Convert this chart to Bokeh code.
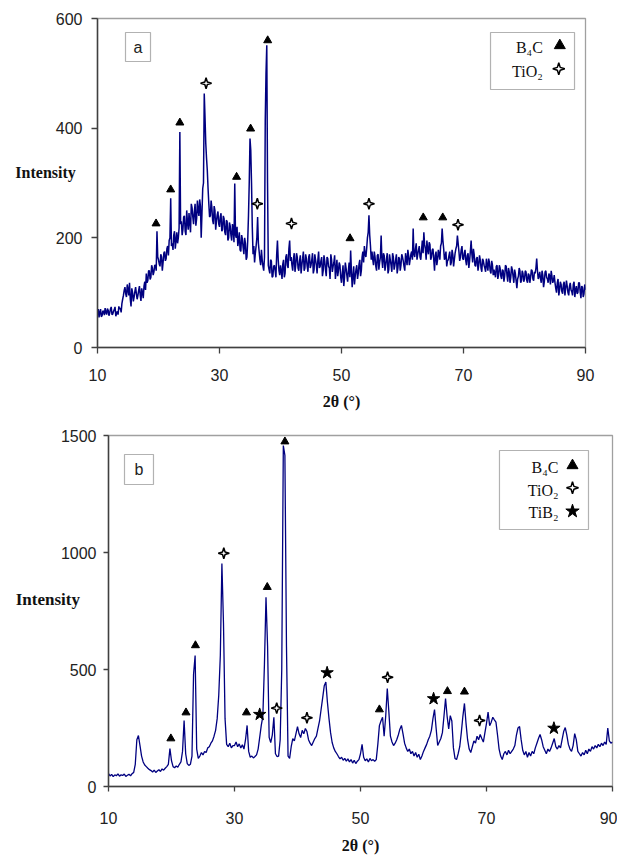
import numpy as np
from bokeh.plotting import figure
from bokeh.models import Range1d, FixedTicker, Label, BoxAnnotation, Title
from bokeh.layouts import column, row
from bokeh.embed import file_html
from bokeh.resources import INLINE

# ---------------- data ----------------
# step scan, 0.25 deg per step from 10 to 90 deg 2-theta
two_theta = np.arange(10, 90.001, 0.25)

# pattern (a): values at the 0.25 deg steps ...
intensity_a = [
    62, 55, 70, 58, 66, 72, 60, 68, 63, 74, 61, 69, 57, 66, 75, 72, 80, 95, 110, 92,
    105, 118, 75, 100, 92, 110, 88, 104, 96, 108, 90, 120, 135, 122, 140, 128, 145, 138, 150, 212,
    160, 148, 165, 155, 175, 162, 185, 195, 272, 190, 205, 180, 210, 200, 393, 230, 215, 240, 205, 228,
    245, 210, 255, 225, 262, 235, 250, 270, 200, 290, 463, 372, 323, 262, 240, 255, 225, 250, 230, 248,
    220, 245, 215, 235, 205, 230, 200, 222, 195, 215, 299, 200, 185, 210, 175, 198, 170, 190, 165, 240,
    381, 300, 170, 155, 185, 238, 175, 150, 160, 140, 414, 551, 150, 135, 158, 130, 150, 128, 195, 140,
    150, 125, 160, 135, 170, 145, 195, 165, 140, 172, 150, 165, 140, 168, 150, 175, 145, 162, 138, 170,
    150, 172, 142, 160, 135, 175, 148, 165, 140, 158, 130, 162, 145, 170, 138, 155, 125, 160, 140, 150,
    118, 150, 128, 145, 120, 155, 177, 110, 148, 130, 150, 135, 160, 140, 175, 185, 165, 200, 241, 185,
    175, 150, 165, 140, 170, 155, 204, 145, 168, 150, 172, 142, 160, 138, 165, 150, 170, 145, 162, 150,
    165, 148, 172, 150, 168, 160, 175, 217, 165, 190, 170, 185, 160, 195, 210, 180, 195, 170, 188, 165,
    180, 140, 175, 160, 170, 185, 217, 180, 165, 148, 160, 175, 155, 170, 160, 180, 204, 175, 165, 185,
    160, 178, 150, 172, 158, 195, 155, 170, 148, 165, 150, 160, 138, 158, 145, 162, 140, 155, 135, 150,
    142, 128, 150, 132, 145, 125, 140, 130, 148, 120, 138, 128, 142, 118, 135, 108, 130, 140, 122, 135,
    125, 138, 118, 132, 128, 140, 122, 135, 162, 125, 138, 118, 132, 120, 140, 125, 135, 115, 130, 122,
    118, 100, 125, 105, 115, 98, 120, 108, 112, 95, 118, 102, 115, 92, 112, 100, 118, 90, 110, 98,
    105,
]
# ... and the in-between readings (at step + 0.125 deg)
intensity_a_half = [
    70, 64, 56, 67, 59, 64, 71, 58, 70, 60, 66, 74, 62, 60, 70, 64, 88, 104, 98, 115,
    95, 88, 108, 84, 102, 98, 95, 112, 85, 100, 112, 105, 118, 140, 124, 150, 132, 150, 140, 165,
    152, 170, 140, 172, 158, 180, 168, 200, 185, 178, 212, 195, 190, 218, 225, 205, 238, 212, 250, 215,
    228, 262, 238, 248, 222, 268, 240, 258, 245, 300, 420, 345, 290, 238, 268, 232, 258, 215, 242, 225,
    238, 212, 240, 210, 232, 195, 228, 205, 225, 192, 205, 220, 195, 178, 205, 182, 200, 160, 195, 300,
    360, 220, 185, 172, 200, 190, 160, 178, 148, 165, 500, 300, 142, 160, 128, 148, 140, 170, 160, 132,
    140, 152, 128, 165, 150, 180, 158, 150, 162, 138, 172, 145, 158, 135, 162, 140, 170, 148, 165, 145,
    160, 135, 170, 150, 160, 145, 158, 130, 168, 142, 165, 148, 125, 160, 148, 168, 142, 130, 155, 128,
    135, 112, 155, 132, 140, 128, 140, 130, 115, 142, 125, 152, 130, 165, 155, 170, 180, 210, 205, 160,
    160, 175, 148, 168, 142, 165, 160, 172, 140, 162, 135, 170, 150, 172, 142, 160, 135, 165, 140, 170,
    158, 140, 162, 178, 150, 170, 160, 170, 180, 160, 178, 165, 178, 172, 188, 160, 178, 192, 160, 178,
    160, 168, 150, 178, 160, 190, 195, 160, 175, 158, 168, 150, 178, 148, 172, 185, 190, 158, 178, 162,
    172, 158, 168, 145, 175, 170, 180, 150, 162, 140, 168, 145, 162, 150, 138, 150, 162, 140, 158, 132,
    135, 148, 125, 150, 130, 142, 120, 150, 132, 145, 118, 148, 130, 142, 122, 125, 145, 118, 140, 120,
    140, 122, 135, 118, 142, 125, 138, 145, 140, 130, 125, 140, 110, 138, 128, 118, 130, 140, 118, 132,
    108, 118, 95, 120, 102, 115, 95, 122, 100, 112, 105, 95, 120, 105, 98, 118, 102, 112, 92, 115,
]

# pattern (b)
intensity_b = [
    55, 45, 52, 42, 50, 46, 54, 44, 50, 47, 53, 43, 48, 52, 46, 55, 60, 95, 200, 218,
    175, 130, 105, 92, 85, 78, 72, 68, 62, 70, 60, 66, 72, 64, 75, 70, 78, 85, 95, 162,
    110, 85, 80, 88, 82, 95, 105, 150, 282, 140, 98, 90, 95, 130, 480, 560, 160, 120, 130, 145,
    135, 150, 145, 165, 170, 185, 195, 215, 240, 290, 390, 560, 953, 700, 290, 180, 170, 185, 165, 175,
    175, 190, 170, 182, 165, 178, 160, 200, 261, 150, 125, 130, 122, 128, 135, 160, 210, 261, 300, 520,
    809, 600, 210, 188, 220, 296, 140, 128, 130, 200, 500, 1457, 1415, 600, 130, 120, 170, 205, 195, 225,
    256, 225, 209, 240, 225, 248, 235, 200, 185, 175, 190, 205, 215, 248, 280, 330, 380, 431, 446, 360,
    290, 230, 188, 165, 150, 140, 128, 118, 125, 112, 120, 108, 118, 105, 115, 100, 112, 98, 108, 115,
    140, 180, 125, 110, 118, 105, 120, 110, 115, 108, 115, 180, 260, 280, 296, 215, 300, 419, 320, 215,
    190, 175, 185, 200, 220, 245, 261, 225, 185, 165, 150, 160, 140, 150, 130, 145, 125, 138, 115, 130,
    150, 165, 180, 200, 215, 240, 290, 329, 250, 175, 190, 205, 230, 300, 376, 300, 246, 303, 280, 165,
    120, 115, 140, 170, 230, 300, 355, 270, 200, 160, 145, 170, 195, 185, 215, 200, 222, 205, 190, 230,
    270, 318, 260, 275, 296, 285, 275, 220, 160, 130, 115, 140, 150, 135, 155, 140, 150, 160, 175, 220,
    250, 256, 200, 155, 135, 150, 125, 145, 130, 150, 140, 165, 185, 205, 222, 200, 170, 155, 140, 160,
    150, 165, 185, 205, 170, 160, 175, 165, 200, 235, 252, 220, 180, 160, 150, 175, 226, 200, 150, 140,
    130, 145, 135, 155, 140, 160, 150, 170, 160, 175, 165, 180, 170, 185, 175, 190, 180, 250, 195, 185,
    190,
]

# phase markers (peak positions and marker heights)
a_b4c_x = [19.6, 22.0, 23.5, 32.8, 35.1, 37.9, 51.4, 63.4, 66.6]
a_b4c_y = [226, 288, 410, 311, 399, 560, 199, 237, 237]
a_tio2_x = [27.8, 36.2, 41.8, 54.5, 69.1]
a_tio2_y = [482, 262, 226, 262, 224]

b_b4c_x = [19.9, 22.3, 23.8, 31.9, 35.2, 38.0, 53.0, 63.8, 66.5]
b_b4c_y = [205, 316, 603, 316, 852, 1474, 329, 407, 405]
b_tio2_x = [28.3, 36.7, 41.5, 54.3, 68.9]
b_tio2_y = [997, 335, 294, 467, 282]
b_tib2_x = [34.0, 44.7, 61.6, 80.7]
b_tib2_y = [308, 486, 375, 249]

x_ticks = [10, 30, 50, 70, 90]
a_y_ticks = [0, 200, 400, 600]
b_y_ticks = [0, 500, 1000, 1500]

phase_names_a = ["B\u2084C", "TiO\u2082"]
phase_names_b = ["B\u2084C", "TiO\u2082", "TiB\u2082"]

LINE = "#000080"
SERIF = "Liberation Serif"
SANS = "Liberation Sans"

# merge the two readings of pattern (a) into one ordered trace
xa = np.empty(len(intensity_a) + len(intensity_a_half))
ya = np.empty_like(xa)
xa[0::2] = two_theta
ya[0::2] = intensity_a
xa[1::2] = two_theta[:-1] + 0.125
ya[1::2] = intensity_a_half


def make_panel(xv, yv, y_max, y_ticks, fw, fh, bl, br, bt, bb, tick_out, y_stand, x_stand,
               lab_stand, title_off, title_stand, lw, lab_size):
    p = figure(frame_width=fw, frame_height=fh,
               x_range=Range1d(10, 90), y_range=Range1d(0, y_max),
               output_backend="svg", toolbar_location=None,
               min_border_left=bl, min_border_right=br,
               min_border_top=bt, min_border_bottom=bb)
    p.grid.visible = False
    p.outline_line_color = "#a0a0a0"
    p.outline_line_width = 1.3
    p.background_fill_color = "white"
    p.xaxis.ticker = FixedTicker(ticks=x_ticks)
    p.yaxis.ticker = FixedTicker(ticks=y_ticks)
    for ax in (p.xaxis[0], p.yaxis[0]):
        ax.axis_line_color = "#404040"
        ax.axis_line_width = 1.5
        ax.major_tick_line_color = "#404040"
        ax.major_tick_line_width = 1.3
        ax.major_tick_out = tick_out
        ax.major_tick_in = 0
        ax.minor_tick_out = 0
        ax.minor_tick_in = 0
        ax.major_label_text_font = SANS
        ax.major_label_text_font_size = "16px"
        ax.major_label_text_color = "#222222"
    yax = p.yaxis[0]
    yax.major_label_standoff = y_stand
    p.xaxis[0].major_label_standoff = x_stand
    yax.axis_label = "Intensity\n\u00a0"
    yax.axis_label_text_font = SERIF
    yax.axis_label_text_font_style = "bold"
    yax.axis_label_text_font_size = lab_size
    yax.axis_label_text_color = "#111111"
    yax.axis_label_text_line_height = 1.2
    yax.axis_label_standoff = lab_stand
    if "axis_label_orientation" in yax.properties():
        yax.axis_label_orientation = "horizontal"
    p.add_layout(Title(text="2\u03b8 (\u00b0)", align="center", offset=title_off,
                       standoff=title_stand, text_font=SERIF, text_font_style="bold",
                       text_font_size="16px", text_color="#111111"), "below")
    p.line(xv, yv, line_color=LINE, line_width=lw)
    return p


def star4(p, xs, ys, kx, ky, R=5.5, r=1.8, lw=1.5):
    k = np.arange(8)
    ang = np.deg2rad(k * 45 + 90)
    rad = np.where(k % 2 == 0, R, r)
    pxs = [list(x + rad * np.cos(ang) / kx) for x in xs]
    pys = [list(y + rad * np.sin(ang) / ky) for y in ys]
    p.patches(pxs, pys, fill_color="white", line_color="black", line_width=lw)


def tri(p, xs, ys, size=8):
    p.scatter(xs, ys, marker="triangle", size=size, color="black")


def box(p, l, r, b, t):
    p.add_layout(BoxAnnotation(left=l, right=r, bottom=b, top=t,
                               fill_color="white", fill_alpha=1, line_color="black",
                               line_width=1.2, level="underlay"))


# ---------------- panel a ----------------
kxa, kya = 488 / 80, 329 / 600
pa = make_panel(xa, ya, 600, a_y_ticks, 488, 329, 97, 28, 18, 78, 6, 9, 15, -23, 62, 14, 1.5,
                "16px")
tri(pa, a_b4c_x, a_b4c_y)
star4(pa, a_tio2_x, a_tio2_y, kxa, kya)

box(pa, 14.59, 18.69, 521.6, 574.5)
pa.add_layout(Label(x=16.64, y=548, text="a", text_font=SANS, text_font_size="16px",
                    text_align="center", text_baseline="middle", text_color="#222222"))
box(pa, 74.43, 88.2, 470.5, 574.5)
for name, yy in zip(phase_names_a, [546.6, 503.9]):
    pa.add_layout(Label(x=83.0, y=yy, text=name, text_font=SERIF, text_font_size="16px",
                        text_align="right", text_baseline="middle", text_color="#111111"))
tri(pa, [85.79], [550.8], size=11)
star4(pa, [85.62], [508.3], kxa, kya, R=6, r=2)

# ---------------- panel b ----------------
kxb, kyb = 504 / 80, 351 / 1500
pb = make_panel(two_theta, intensity_b, 1500, b_y_ticks, 504, 351, 108, 5, 10, 74, 5, 7, 20,
                -22, 62, 16, 1.3, "17px")
tri(pb, b_b4c_x, b_b4c_y)
star4(pb, b_tio2_x, b_tio2_y, kxb, kyb)
pb.scatter(b_tib2_x, b_tib2_y, marker="star", size=13, color="black")

box(pb, 12.54, 17.14, 1290.6, 1418.8)
pb.add_layout(Label(x=14.84, y=1354.7, text="b", text_font=SANS, text_font_size="16px",
                    text_align="center", text_baseline="middle", text_color="#222222"))
box(pb, 72.06, 86.19, 1098.3, 1435.9)
for name, yy in zip(phase_names_b, [1362, 1265, 1172]):
    pb.add_layout(Label(x=81.43, y=yy, text=name, text_font=SERIF, text_font_size="16px",
                        text_align="right", text_baseline="middle", text_color="#111111"))
tri(pb, [83.65], [1371.8], size=11)
star4(pb, [83.65], [1276.5], kxb, kyb, R=6, r=2)
pb.scatter([83.65], [1176.5], marker="star", size=14, color="black")

layout = column(row(pa), row(pb))
open("out.html", "w").write(file_html(layout, INLINE))
